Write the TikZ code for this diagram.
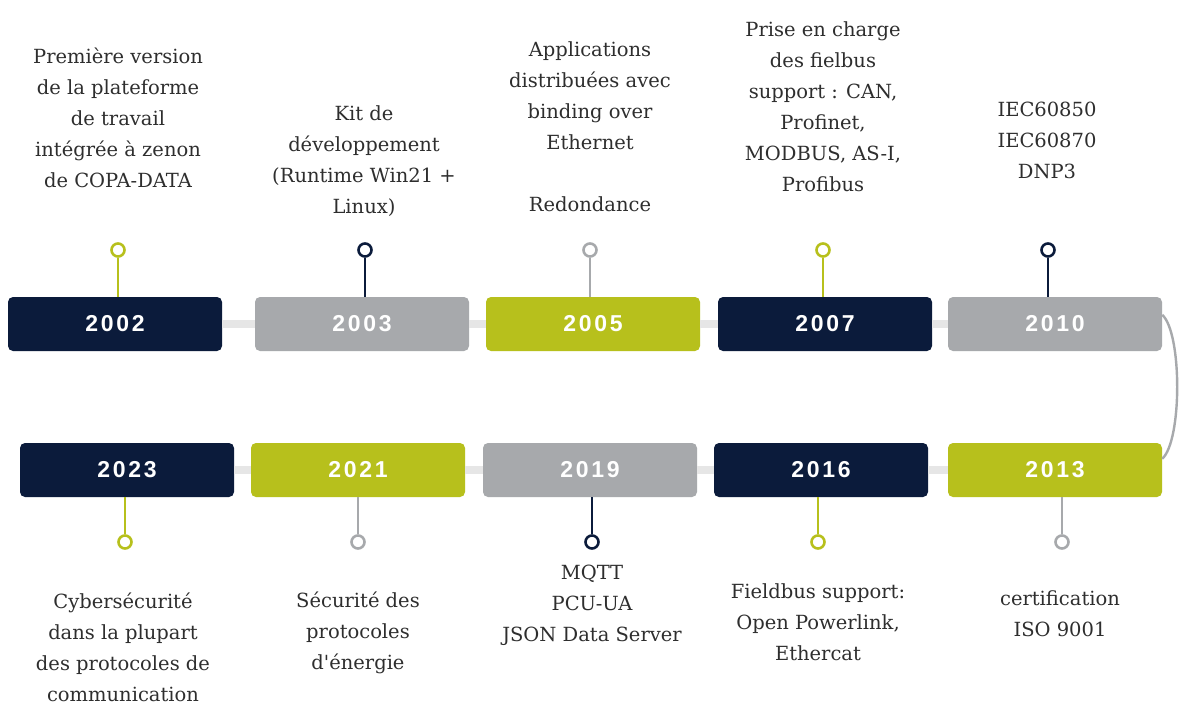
\documentclass[tikz,border=0pt]{standalone}
\usepackage{fontspec}
\newfontfamily\infofont{DejaVu Serif}
\newfontfamily\yearfont[LetterSpace=12]{Liberation Sans}
\definecolor{navy}{HTML}{0B1B3B}
\definecolor{midgray}{HTML}{A7A9AC}
\definecolor{lime}{HTML}{B7C01C}
\definecolor{track}{HTML}{E6E6E6}
\definecolor{ink}{HTML}{2E2E2E}

\begin{document}
\begin{tikzpicture}[x=1pt, y=-1pt,
 yearbox/.style={rectangle, rounded corners=5pt, minimum width=214pt, minimum height=54pt,
   inner sep=0pt, text=white, font=\yearfont\bfseries\fontsize{23}{23}\selectfont},
 pinhead/.style={circle, draw, line width=2.6pt, minimum size=13pt, inner sep=0pt, fill=white},
 stem/.style={line width=2.4pt},
 link/.style={draw=track, line width=8pt},
 info/.style={align=center, text=ink, font=\infofont\fontsize{19.5}{31}\selectfont}]

  \useasboundingbox[fill=white] (0,0) rectangle (1179,707);

  % year boxes
  \foreach \y/\x/\col in {2002/115/navy, 2003/362/midgray, 2005/593/lime, 2007/825/navy, 2010/1055/midgray}
   \node[yearbox, fill=\col] (\y) at (\x,324) {\y};
  \foreach \y/\x/\col in {2023/127/navy, 2021/358/lime, 2019/590/midgray, 2016/821/navy, 2013/1055/lime}
   \node[yearbox, fill=\col] (\y) at (\x,470) {\y};

  \foreach \s/\t in {2002/2003, 2003/2005, 2005/2007, 2007/2010, 2023/2021, 2021/2019, 2019/2016, 2016/2013}
   \path[link] (\s) -- (\t);

  % turn on the right
  \coordinate (bendin) at ([yshift=-18pt]2010.north east);
  \coordinate (bendout) at ([yshift=-16pt]2013.north east);
  \draw[stem, midgray] (bendin) .. controls +(20,18) and +(20,-18) .. (bendout);

  % pins
  \foreach \y/\x/\col in {2002/118/lime, 2003/365/navy, 2005/590/midgray, 2007/823/lime, 2010/1048/navy} {
   \node[pinhead, draw=\col] (p\y) at (\x,250) {};
   \draw[stem, \col] (p\y) -- (p\y |- \y.north);}
  \foreach \y/\x/\col in {2023/125/lime, 2021/358/midgray, 2019/592/navy, 2016/818/lime, 2013/1062/midgray} {
   \node[pinhead, draw=\col] (p\y) at (\x,542) {};
   \draw[stem, \col] (\y.south -| p\y) -- (p\y);}

  % texts
  \node[info] (t2002) at (118,118) {Première version\\de la plateforme\\de travail\\intégrée à zenon\\de COPA-DATA};
  \node[info] (t2003) at (364,161) {Kit de\\développement\\(Runtime Win21 +\\Linux)};
  \node[info] (t2005) at (590,127) {Applications\\distribuées avec\\binding over\\Ethernet\\[31pt]Redondance};
  \node[info] (t2007) at (823,107) {Prise en charge\\des fielbus\\support : CAN,\\Profinet,\\MODBUS, AS-I,\\Profibus};
  \node[info] (t2010) at (1047,140) {IEC60850\\IEC60870\\DNP3};

  \node[info] (t2023) at (123,647) {Cybersécurité\\dans la plupart\\des protocoles de\\communication};
  \node[info] (t2021) at (358,633) {Sécurité des\\protocoles\\d'énergie};
  \node[info] (t2019) at (592,605) {MQTT\\PCU-UA\\JSON Data Server};
  \node[info] (t2016) at (818,622) {Fieldbus support:\\Open Powerlink,\\Ethercat};
  \node[info] (t2013) at (1060,614) {certification\\ISO 9001};
\end{tikzpicture}
\end{document}
